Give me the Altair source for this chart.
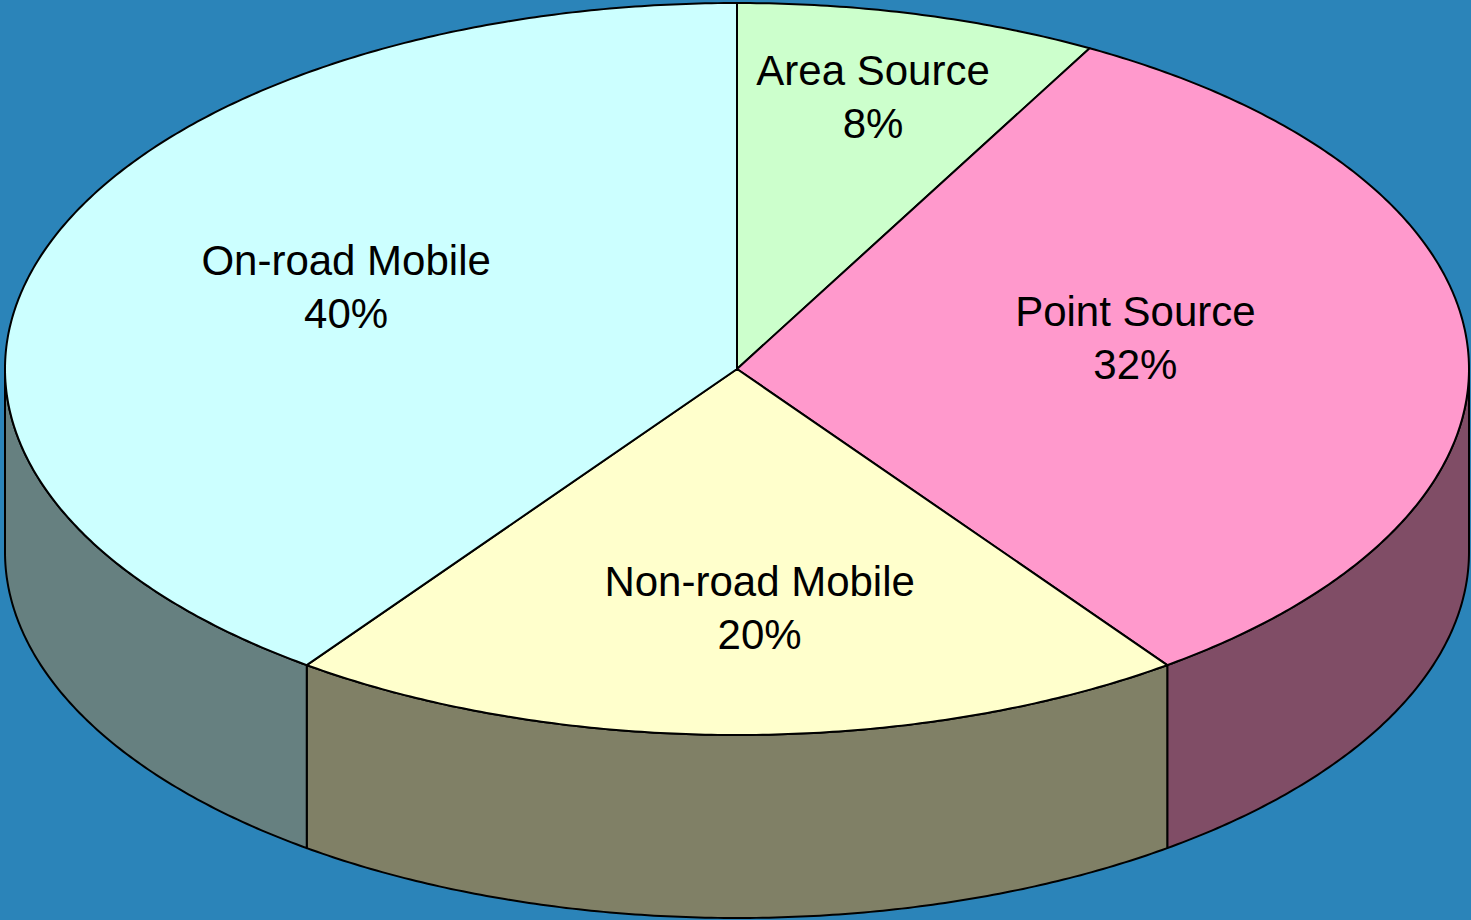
import math
import altair as alt

# ---- data ----
categories = ["Area Source", "Point Source", "Non-road Mobile", "On-road Mobile"]
shares = [8, 32, 20, 40]
top_colors = ["#CCFFCC", "#FF99CC", "#FFFFCC", "#CCFFFF"]
side_colors = ["#668066", "#804D66", "#808066", "#668080"]

# ---- layout of the tilted pie (pixels) ----
W, H = 1471, 920
CX, CY, RX, RY, DEPTH = 737, 369, 732, 366, 183
FONT_SIZE, LINE_H = 42, 53
label_radius = [0.763, 0.55, 0.657, 0.578]
label_shift = [-0.3, -4.7, -2.7, 4.5]


def pt(a, dy=0.0):
    r = math.radians(a)
    return [CX + RX * math.sin(r), CY - RY * math.cos(r) + dy]


def arc(a0, a1, dy=0.0):
    n = max(2, int(abs(a1 - a0) * 2) + 1)
    return [pt(a0 + (a1 - a0) * i / (n - 1), dy) for i in range(n)]


total = float(sum(shares))
bounds = []
acc = 0.0
for s in shares:
    a0 = acc / total * 360.0
    acc += s
    a1 = acc / total * 360.0
    bounds.append((a0, a1))

side_features, top_features, labels = [], [], []
for name, share, tc, sc, (a0, a1), lr, ls in zip(
    categories, shares, top_colors, side_colors, bounds, label_radius, label_shift
):
    s, e = max(a0, 90.0), min(a1, 270.0)
    if s < e:
        ring = arc(s, e) + arc(e, s, DEPTH)
        ring.append(ring[0])
        side_features.append({
            "type": "Feature",
            "properties": {"name": name, "fill": sc},
            "geometry": {"type": "Polygon", "coordinates": [ring]},
        })
    ring = [[CX, CY]] + arc(a0, a1) + [[CX, CY]]
    top_features.append({
        "type": "Feature",
        "properties": {"name": name, "fill": tc},
        "geometry": {"type": "Polygon", "coordinates": [ring]},
    })
    mid = math.radians((a0 + a1) / 2 + ls)
    labels.append({
        "lon": CX + RX * lr * math.sin(mid),
        "lat": CY - RY * lr * math.cos(mid),
        "text": f"{name}\n{share}%",
    })

proj = alt.Projection(type="identity", scale=1, translate=[0, 0])

shapes = alt.Chart(alt.Data(values=side_features + top_features)).mark_geoshape(
    stroke="black", strokeWidth=2, strokeJoin="round"
).encode(
    fill=alt.Fill("properties.fill:N", scale=None)
).properties(projection=proj)

text = alt.Chart(alt.Data(values=labels)).mark_text(
    font="Liberation Sans", fontSize=FONT_SIZE, lineHeight=LINE_H, lineBreak="\n",
    align="center", baseline="middle", color="black", dy=-LINE_H / 2
).encode(
    longitude="lon:Q", latitude="lat:Q", text="text:N"
).properties(projection=proj)

chart = alt.layer(shapes, text).properties(
    width=W, height=H, padding=0, autosize="none", background="#2B84B9"
).configure_view(stroke=None)

chart.save("out.html", embed_options={"renderer": "svg", "actions": False})
